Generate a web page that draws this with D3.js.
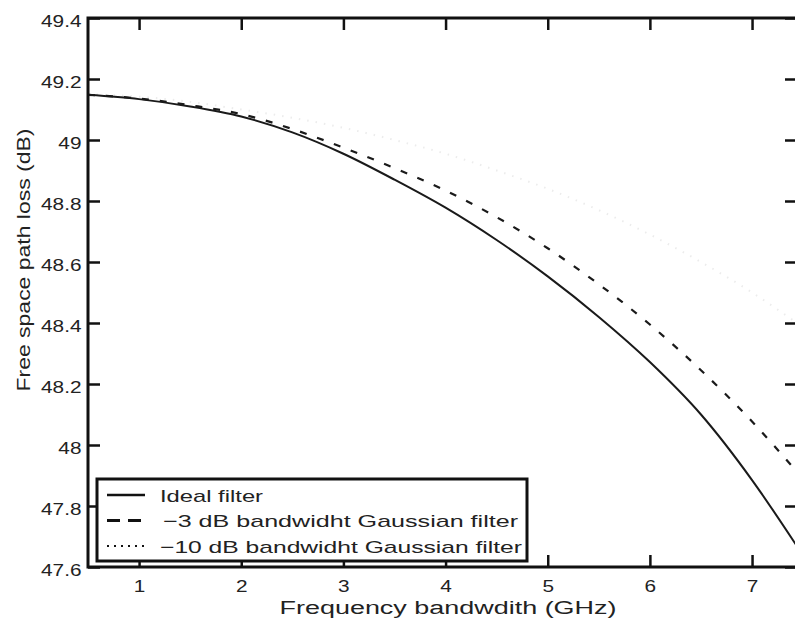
<!DOCTYPE html>
<html>
<head>
<meta charset="utf-8">
<script src="https://cdn.jsdelivr.net/npm/d3@7/dist/d3.min.js"></script>
<style>
	body { margin: 0; background: #fff; }
	svg { display: block; font-family: "Liberation Sans", Arial, Helvetica, sans-serif; }
</style>
</head>
<body>
<svg id="chart" width="795" height="630"></svg>
<script>
(function() {

	// DATA
	var freq = [0.5, 1, 1.5, 2, 2.5, 3, 3.5, 4, 4.5, 5, 5.5, 6, 6.5, 7, 7.44];
	var idealLoss  = [49.148, 49.134, 49.110, 49.077, 49.025, 48.955, 48.870, 48.778, 48.672, 48.553, 48.420, 48.272, 48.100, 47.885, 47.668];
	var gauss3Loss = [49.148, 49.136, 49.114, 49.085, 49.036, 48.975, 48.908, 48.834, 48.747, 48.645, 48.527, 48.395, 48.245, 48.077, 47.912];
	var gauss10Loss = [49.150, 49.142, 49.125, 49.100, 49.073, 49.040, 49.000, 48.955, 48.900, 48.840, 48.770, 48.690, 48.600, 48.500, 48.400];

	var xTicks = [1, 2, 3, 4, 5, 6, 7];
	var yTicks = [47.6, 47.8, 48, 48.2, 48.4, 48.6, 48.8, 49, 49.2, 49.4];
	var yTickLabels = ['47.6', '47.8', '48', '48.2', '48.4', '48.6', '48.8', '49', '49.2', '49.4'];

	var seriesNames = ['Ideal filter', '\u22123 dB bandwidht Gaussian filter', '\u221210 dB bandwidht Gaussian filter'];
	var xTitle = 'Frequency bandwdith (GHz)';
	var yTitle = 'Free space path loss (dB)';

	// LAYOUT
	var plot = { left: 88, top: 18, right: 797, bottom: 567 };
	var stretch = 1.3; // scanned labels are wide

	var svg = d3.select('#chart');

	var x = d3.scaleLinear().domain([0.5, 7.44]).range([plot.left, plot.right]);
	var y = d3.scaleLinear().domain([47.6, 49.4]).range([plot.bottom, plot.top]);

	svg.append('defs').append('clipPath')
		.attr('id', 'plot-clip')
		.append('rect')
		.attr('x', plot.left).attr('y', plot.top)
		.attr('width', plot.right - plot.left)
		.attr('height', plot.bottom - plot.top);

	// AXES
	var tickLen = 12;

	var gx = svg.append('g')
		.attr('transform', 'translate(0,' + plot.bottom + ')')
		.call(d3.axisBottom(x).tickValues(xTicks).tickSize(-tickLen).tickPadding(14).tickFormat(d3.format('d')));

	svg.append('g')
		.attr('transform', 'translate(0,' + plot.top + ')')
		.call(d3.axisTop(x).tickValues(xTicks).tickSize(-tickLen).tickFormat(''));

	var gy = svg.append('g')
		.attr('transform', 'translate(' + plot.left + ',0)')
		.call(d3.axisLeft(y).tickValues(yTicks).tickSize(-tickLen).tickPadding(5)
			.tickFormat(function(d, i) { return yTickLabels[i]; }));

	svg.append('g')
		.attr('transform', 'translate(' + plot.right + ',0)')
		.call(d3.axisRight(y).tickValues(yTicks).tickSize(-tickLen).tickFormat(''));

	svg.selectAll('.domain').remove();
	svg.selectAll('.tick line').attr('stroke', '#111').attr('stroke-width', 2.5);

	gx.selectAll('.tick text')
		.attr('font-size', 16)
		.attr('fill', '#222')
		.attr('transform', 'scale(' + stretch + ',1)');

	gy.selectAll('.tick text')
		.attr('font-size', 16)
		.attr('fill', '#222')
		.attr('dy', '0.5em')
		.attr('transform', 'scale(' + stretch + ',1)');

	// CURVES
	var line = d3.line()
		.x(function(d) { return x(d[0]); })
		.y(function(d) { return y(d[1]); })
		.curve(d3.curveMonotoneX);

	var curves = svg.append('g').attr('clip-path', 'url(#plot-clip)');

	// the -10 dB curve is almost washed out in the scan
	curves.append('path')
		.datum(d3.zip(freq, gauss10Loss))
		.attr('fill', 'none')
		.attr('stroke', '#ececec')
		.attr('stroke-width', 2)
		.attr('stroke-dasharray', '1.5,7')
		.attr('d', line);

	curves.append('path')
		.datum(d3.zip(freq, gauss3Loss))
		.attr('fill', 'none')
		.attr('stroke', '#1a1a1a')
		.attr('stroke-width', 2.2)
		.attr('stroke-dasharray', '7,11')
		.attr('d', line);

	curves.append('path')
		.datum(d3.zip(freq, idealLoss))
		.attr('fill', 'none')
		.attr('stroke', '#1a1a1a')
		.attr('stroke-width', 2)
		.attr('d', line);

	// FRAME
	svg.append('rect')
		.attr('x', plot.left).attr('y', plot.top)
		.attr('width', plot.right - plot.left)
		.attr('height', plot.bottom - plot.top)
		.attr('fill', 'none')
		.attr('stroke', '#111')
		.attr('stroke-width', 3);

	// TITLES
	svg.append('text')
		.attr('x', 448).attr('y', 614)
		.attr('text-anchor', 'middle')
		.attr('font-size', 18)
		.attr('fill', '#222')
		.attr('textLength', 337)
		.attr('lengthAdjust', 'spacingAndGlyphs')
		.text(xTitle);

	svg.append('text')
		.attr('transform', 'translate(30,260)rotate(-90)')
		.attr('text-anchor', 'middle')
		.attr('font-size', 18)
		.attr('fill', '#222')
		.attr('textLength', 263)
		.attr('lengthAdjust', 'spacingAndGlyphs')
		.text(yTitle);

	// LEGEND
	var legend = svg.append('g');
	legend.append('rect')
		.attr('x', 97).attr('y', 479)
		.attr('width', 430).attr('height', 82)
		.attr('fill', '#fff')
		.attr('stroke', '#111')
		.attr('stroke-width', 3);

	var legendRows = [
		{ name: seriesNames[0], dash: null, w: 2.4, textStart: 160, textLen: 103 },
		{ name: seriesNames[1], dash: '13,8', w: 3, textStart: 163, textLen: 355 },
		{ name: seriesNames[2], dash: '2,5', w: 2.2, textStart: 160, textLen: 362 }
	];

	legendRows.forEach(function(r, i) {
		var cy = 495 + i * 25.5;
		legend.append('line')
			.attr('x1', 107).attr('x2', 145)
			.attr('y1', cy).attr('y2', cy)
			.attr('stroke', '#111')
			.attr('stroke-width', r.w)
			.attr('stroke-dasharray', r.dash);
		legend.append('text')
			.attr('x', r.textStart).attr('y', cy + 6.5)
			.attr('font-size', 17)
			.attr('fill', '#222')
			.attr('textLength', r.textLen)
			.attr('lengthAdjust', 'spacingAndGlyphs')
			.text(r.name);
	});

})();
</script>
</body>
</html>
